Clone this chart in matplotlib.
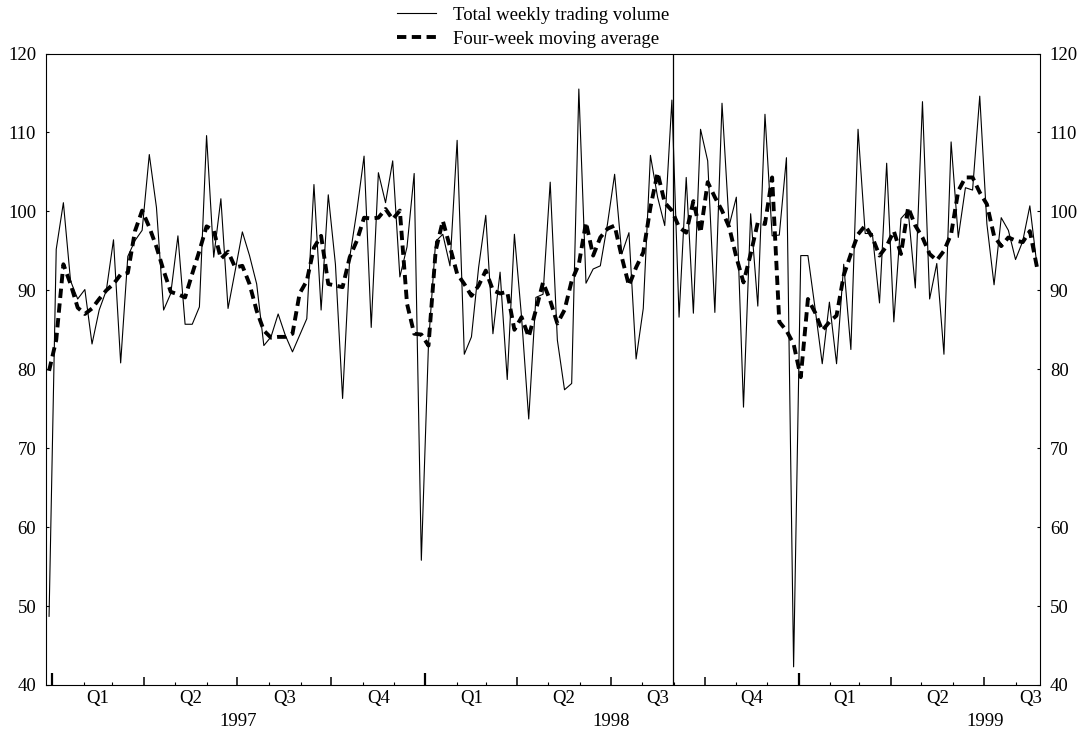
import numpy as np
import pandas as pd
import matplotlib
matplotlib.use('Agg')
import matplotlib.pyplot as plt
import matplotlib.dates as mdates
from matplotlib.ticker import FixedLocator

plt.rcParams['font.family'] = ['Liberation Serif', 'DejaVu Serif']
plt.rcParams['font.size'] = 13.5

# weekly observations, end of 1996 to August 1999
weeks = pd.date_range('1996-12-29', periods=139, freq='7D')

volume = [48.7, 95.2, 101.1, 91.2, 88.9, 90.1, 83.2, 87.5, 90.0, 96.4,
          80.8, 94.3, 96.3, 97.6, 107.2, 100.5, 87.5, 89.6, 96.9, 85.7,
          85.7, 87.9, 109.6, 94.2, 101.6, 87.7, 92.5, 97.4, 94.4, 90.8,
          83.0, 84.1, 87.0, 84.3, 82.2, 84.3, 86.4, 103.4, 87.5, 102.1,
          93.3, 76.3, 94.2, 100.1, 107.0, 85.3, 104.9, 101.1, 106.4, 91.7,
          95.5, 104.8, 55.8, 83.2, 96.2, 97.1, 93.1, 109.0, 81.9, 84.1,
          92.9, 99.5, 84.5, 92.3, 78.7, 97.1, 86.6, 73.7, 89.1, 89.5,
          103.7, 83.7, 77.4, 78.2, 115.5, 90.9, 92.7, 93.1, 98.4, 104.7,
          94.6, 97.3, 81.3, 87.7, 107.1, 101.8, 98.2, 114.1, 86.6, 104.3,
          87.1, 110.4, 106.4, 87.2, 113.7, 98.2, 101.8, 75.2, 99.7, 88.0,
          112.3, 96.9, 97.0, 106.8, 42.3, 94.4, 94.4, 87.7, 80.7, 88.5,
          80.7, 93.3, 82.5, 110.4, 97.2, 97.2, 88.4, 106.1, 86.0, 99.1,
          100.1, 90.3, 113.9, 88.9, 93.4, 81.9, 108.8, 96.7, 103.0, 102.7,
          114.6, 98.4, 90.7, 99.2, 97.6, 93.9, 96.2, 100.7, 93.1]

moving_avg = [79.8, 83.7, 93.3, 90.8, 87.8, 87.0, 87.7, 88.9, 90.0, 90.8,
              92.0, 92.2, 97.5, 100.1, 98.0, 95.5, 92.5, 89.8, 89.5, 89.1,
              92.1, 95.0, 98.1, 97.6, 94.0, 94.9, 92.9, 93.1, 90.8, 87.4,
              84.9, 84.0, 84.1, 84.1, 84.5, 89.6, 91.2, 95.4, 96.9, 90.8,
              90.6, 90.4, 94.2, 96.3, 99.2, 99.1, 99.2, 100.3, 99.0, 100.1,
              88.3, 84.5, 84.4, 83.0, 95.0, 98.8, 95.5, 92.1, 90.8, 89.3,
              90.6, 92.5, 90.0, 89.6, 89.8, 85.0, 86.6, 84.1, 87.5, 91.0,
              88.7, 85.8, 87.5, 91.2, 93.3, 98.6, 94.4, 96.7, 97.8, 98.2,
              94.2, 90.6, 92.9, 94.8, 100.5, 104.9, 101.1, 100.1, 98.0, 97.3,
              101.3, 97.3, 103.7, 101.8, 100.1, 98.0, 94.2, 91.0, 94.6, 98.6,
              98.4, 104.3, 86.0, 84.9, 83.2, 79.0, 88.9, 87.2, 84.9, 86.0,
              86.8, 91.9, 94.6, 97.1, 98.2, 96.7, 94.4, 95.6, 97.5, 94.6,
              100.5, 98.2, 96.7, 94.6, 93.8, 95.0, 97.1, 102.6, 104.3, 104.3,
              102.4, 100.9, 96.9, 95.6, 96.7, 96.3, 96.1, 97.5, 92.9]

event_day = pd.Timestamp('1998-08-31')
years = [1997, 1998, 1999]

fig = plt.figure(figsize=(10.9, 7.33), dpi=100)
ax = fig.add_axes([0.0422, 0.0655, 0.912, 0.8615])

ax.plot(weeks, volume, color='black', lw=0.8, label='Total weekly trading volume')
ax.plot(weeks, moving_avg, color='black', lw=2.8, dashes=(2.4, 1.4),
        label='Four-week moving average')
ax.axvline(event_day, color='black', lw=0.9)

ax.set_ylim(40, 120)
ax.set_yticks(np.arange(40, 121, 10))
ax.set_xlim(pd.Timestamp('1996-12-26'), pd.Timestamp('1999-08-25'))

# quarter ticks (years longer), month ticks short
quarters = pd.date_range('1997-01-01', '1999-07-01', freq='QS')
months = pd.date_range('1997-01-01', '1999-08-01', freq='MS')
ax.xaxis.set_major_locator(FixedLocator(mdates.date2num(quarters)))
ax.xaxis.set_minor_locator(FixedLocator(mdates.date2num(months)))
ax.tick_params(axis='x', which='major', direction='in', length=5.5, width=1.1,
               labelbottom=False)
ax.tick_params(axis='x', which='minor', direction='in', length=2.4, width=0.8)
for tick, q in zip(ax.xaxis.get_major_ticks(), quarters):
    if q.month == 1:
        tick.tick1line.set_markersize(9)
        tick.tick1line.set_markeredgewidth(1.6)

ax.tick_params(axis='y', direction='in', length=2, width=0.8, left=True, right=True,
               labelleft=True, labelright=True, pad=7)
for sp in ax.spines.values():
    sp.set_linewidth(0.8)

# quarter and year labels below the axis
trans = ax.get_xaxis_transform()
for q in pd.date_range('1997-01-01', '1999-07-01', freq='QS'):
    mid = q + (q + pd.offsets.QuarterBegin(startingMonth=1) - q) / 2
    ax.text(mid, -0.008, 'Q%d' % q.quarter, transform=trans, ha='center', va='top')
for y in years:
    ax.text(pd.Timestamp('%d-07-02' % y), -0.044, str(y), transform=trans,
            ha='center', va='top')

fig.legend(loc='upper center', bbox_to_anchor=(0.489, 1.014), frameon=False,
           handlelength=2.1, handletextpad=0.9, labelspacing=0.38)

fig.savefig('out.png', dpi=100)
